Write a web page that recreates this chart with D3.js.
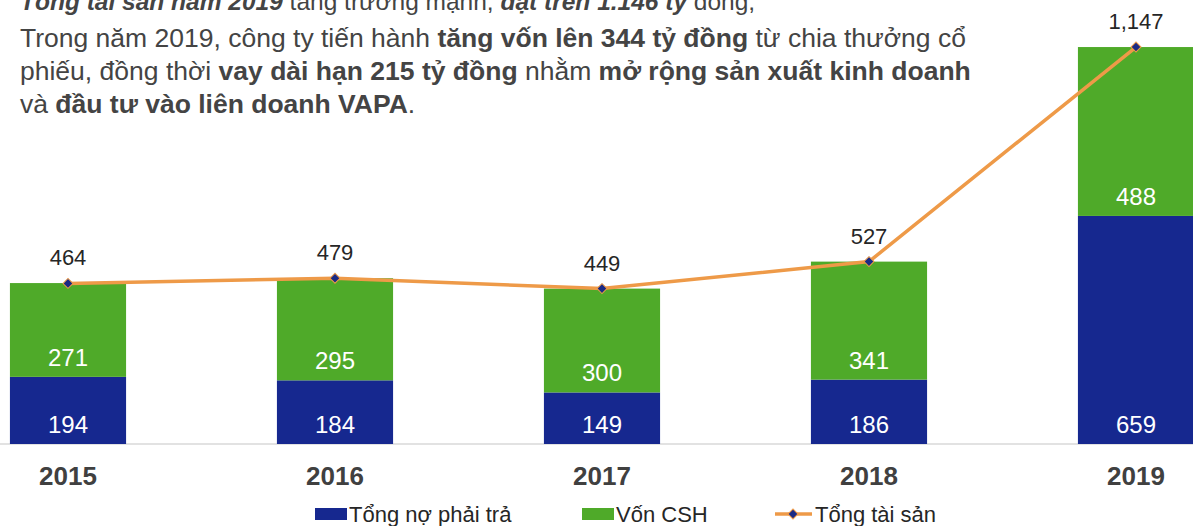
<!DOCTYPE html>
<html>
<head>
<meta charset="utf-8">
<script src="https://cdn.jsdelivr.net/npm/d3@7"></script>
<style>
  body { margin: 0; background: #fff; }
  svg { display: block; font-family: "Liberation Sans", Arial, sans-serif; }
</style>
</head>
<body>
<div id="chart"></div>
<script>
const years = ["2015", "2016", "2017", "2018", "2019"];
const debt = [194, 184, 149, 186, 659];     // Tổng nợ phải trả
const equity = [271, 295, 300, 341, 488];   // Vốn CSH
const total = [464, 479, 449, 527, 1147];   // Tổng tài sản
const totalLabels = ["464", "479", "449", "527", "1,147"];

const seriesNames = ["Tổng nợ phải trả", "Vốn CSH", "Tổng tài sản"];

// paragraph: [text, bold, italic]
const para = [
  [["Tổng tài sản năm 2019", 1, 1], [" tăng trưởng mạnh, ", 0, 0], ["đạt trên 1.146 tỷ", 1, 1], [" đồng,", 0, 0]],
  [["Trong năm 2019, công ty tiến hành ", 0, 0], ["tăng vốn lên 344 tỷ đồng", 1, 0], [" từ chia thưởng cổ", 0, 0]],
  [["phiếu, đồng thời ", 0, 0], ["vay dài hạn 215 tỷ đồng", 1, 0], [" nhằm ", 0, 0], ["mở rộng sản xuất kinh doanh", 1, 0]],
  [["và ", 0, 0], ["đầu tư vào liên doanh VAPA", 1, 0], [".", 0, 0]]
];

const width = 1193, height = 526;
const blue = "#16288f", green = "#4faa29", orange = "#ee9a48";

const svg = d3.select("#chart").append("svg")
  .attr("width", width)
  .attr("height", height);

const x = d3.scalePoint().domain(years).range([68, 1136]);
const barW = x.step() * 0.435;
const y = d3.scaleLinear().domain([0, 1150]).range([444, 46]);

// paragraph text (first line is cut by the top edge, as in the source)
const ptext = svg.append("g")
  .attr("fill", "#444");
para.forEach((line, i) => {
  const t = ptext.append("text")
    .attr("x", 20)
    .attr("y", i === 0 ? 10 : 14 + i * 33)
    .style("font-size", i === 0 ? "24.5px" : "26.5px");
  line.forEach(p => {
    t.append("tspan")
      .text(p[0])
      .attr("font-weight", p[1] ? "bold" : "normal")
      .attr("font-style", p[2] ? "italic" : "normal");
  });
});

// axis baseline
svg.append("line")
  .attr("x1", 0).attr("x2", width)
  .attr("y1", y(0)).attr("y2", y(0))
  .attr("stroke", "#d9d9d9")
  .attr("stroke-width", 1.5);

// stacked bars
const rows = years.map((yr, i) => ({ year: yr, debt: debt[i], equity: equity[i], total: total[i], label: totalLabels[i] }));
const stack = d3.stack().keys(["debt", "equity"])(rows);
const colors = { debt: blue, equity: green };

const layers = svg.append("g").selectAll("g")
  .data(stack)
  .join("g")
  .attr("fill", d => colors[d.key]);

layers.selectAll("rect")
  .data(d => d)
  .join("rect")
  .attr("x", d => x(d.data.year) - barW / 2)
  .attr("width", barW)
  .attr("y", d => y(d[1]))
  .attr("height", d => y(d[0]) - y(d[1]));

// segment labels (inside base)
layers.selectAll("text")
  .data(d => d.map(s => Object.assign({ key: d.key }, s)))
  .join("text")
  .attr("x", d => x(d.data.year))
  .attr("y", d => y(d[0]) - 11)
  .attr("text-anchor", "middle")
  .attr("fill", "#fff")
  .style("font-size", "24px")
  .text(d => d.data[d.key]);

// total line
const line = d3.line()
  .x(d => x(d.year))
  .y(d => y(d.total));

svg.append("path")
  .datum(rows)
  .attr("d", line)
  .attr("fill", "none")
  .attr("stroke", orange)
  .attr("stroke-width", 3.5);

const diamond = d3.symbol().type(d3.symbolSquare).size(50);

svg.append("g").selectAll("path")
  .data(rows)
  .join("path")
  .attr("transform", d => `translate(${x(d.year)},${y(d.total)}) rotate(45)`)
  .attr("d", diamond)
  .attr("fill", "#1b2a85")
  .attr("stroke", orange)
  .attr("stroke-width", 1);

svg.append("g").selectAll("text")
  .data(rows)
  .join("text")
  .attr("x", d => x(d.year))
  .attr("y", d => y(d.total) - 18)
  .attr("text-anchor", "middle")
  .attr("fill", "#262626")
  .style("font-size", "22px")
  .text(d => d.label);

// x axis labels
svg.append("g").selectAll("text")
  .data(years)
  .join("text")
  .attr("x", d => x(d))
  .attr("y", 485)
  .attr("text-anchor", "middle")
  .attr("fill", "#404040")
  .attr("font-weight", "bold")
  .style("font-size", "26px")
  .text(d => d);

// legend
const leg = svg.append("g").style("font-size", "22px").attr("fill", "#262626");
const legX = [315, 582, 775];
[0, 1].forEach(i => {
  leg.append("rect")
    .attr("x", legX[i]).attr("y", 508)
    .attr("width", 32).attr("height", 12)
    .attr("fill", i === 0 ? blue : green);
  leg.append("text")
    .attr("x", legX[i] + 34).attr("y", 522)
    .text(seriesNames[i]);
});
leg.append("line")
  .attr("x1", legX[2]).attr("x2", legX[2] + 37)
  .attr("y1", 514).attr("y2", 514)
  .attr("stroke", orange).attr("stroke-width", 3.5);
leg.append("path")
  .attr("transform", `translate(${legX[2] + 18},514) rotate(45)`)
  .attr("d", diamond)
  .attr("fill", "#1b2a85")
  .attr("stroke", orange);
leg.append("text")
  .attr("x", legX[2] + 40).attr("y", 522)
  .text(seriesNames[2]);
</script>
</body>
</html>
